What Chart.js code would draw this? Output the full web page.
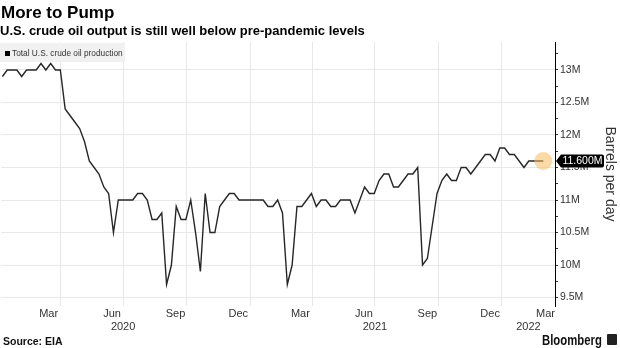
<!DOCTYPE html>
<html><head><meta charset="utf-8">
<script src="https://cdn.jsdelivr.net/npm/chart.js@4.4.1/dist/chart.umd.min.js"></script>
<style>
html,body{margin:0;padding:0;background:#fff;}
#wrap{position:relative;width:620px;height:348px;overflow:hidden;font-family:"Liberation Sans",Arial,sans-serif;}
#c{position:absolute;left:0;top:0;}
.t{position:absolute;white-space:nowrap;line-height:1;}
#title{left:1px;top:4.3px;font-size:17px;font-weight:bold;color:#000;}
#sub{left:0px;top:24px;font-size:13px;font-weight:bold;color:#000;}
#legend{position:absolute;left:0;top:43px;width:125px;height:19px;background:#f1f1f1;}
#legsq{position:absolute;left:5px;top:50.5px;width:5px;height:5px;background:#000;}
#legtx{left:12px;top:48.5px;font-size:8.3px;color:#333;}
#src{left:3px;top:336px;font-size:10.5px;font-weight:bold;color:#111;}
#bb{left:541.5px;top:332.6px;font-size:14px;font-weight:bold;color:#111;transform:scaleX(0.81);transform-origin:0 0;}
#icon{position:absolute;left:607px;top:334px;width:10px;height:11px;background:#222;border-radius:1px;}
</style></head>
<body><div id="wrap">
<canvas id="c" width="620" height="348"></canvas>
<div class="t" id="title">More to Pump</div>
<div class="t" id="sub">U.S. crude oil output is still well below pre-pandemic levels</div>
<div id="legend"></div><div id="legsq"></div>
<div class="t" id="legtx">Total U.S. crude oil production</div>
<div class="t" id="src">Source: EIA</div>
<div class="t" id="bb">Bloomberg</div>
<div id="icon"></div>
</div>
<script>
// ---- data (millions of barrels per day), weekly EIA estimates by release date ----
const seriesName = 'Total U.S. crude oil production';
const firstReleaseDate = '2020-01-08';
const production = [
 12.9,13.0,13.0,13.0,12.9,13.0,13.0,13.0,13.1,13.0,
 13.1,13.0,13.0,12.4,12.3,12.2,12.1,11.9,11.6,11.5,
 11.4,11.2,11.1,10.5,11.0,11.0,11.0,11.0,11.1,11.1,
 11.0,10.7,10.7,10.8,9.7,10.0,10.9,10.7,10.7,11.0,
 10.5,9.9,11.1,10.5,10.5,10.9,11.0,11.1,11.1,11.0,
 11.0,11.0,11.0,11.0,11.0,10.9,10.9,11.0,10.8,9.7,
 10.0,10.9,10.9,11.0,11.1,10.9,11.0,11.0,10.9,10.9,
 11.0,11.0,11.0,10.8,11.0,11.2,11.1,11.1,11.3,11.4,
 11.4,11.2,11.2,11.3,11.4,11.4,11.5,10.0,10.1,10.6,
 11.1,11.3,11.4,11.3,11.3,11.5,11.5,11.4,11.5,11.6,
 11.7,11.7,11.6,11.8,11.8,11.7,11.7,11.6,11.5,11.6,
 11.6,11.6,11.6
];
const axisStart = '2020-01-06';
const axisEnd = '2022-03-19';
const gridDates = ['2020-04-01','2020-07-01','2020-10-01','2021-01-01','2021-04-01','2021-07-01','2021-10-01','2022-01-01'];
const monthLabelDates = ['2020-03-15','2020-06-15','2020-09-15','2020-12-15','2021-03-15','2021-06-15','2021-09-15','2021-12-15'];
const monthLabels = ['Mar','Jun','Sep','Dec','Mar','Jun','Sep','Dec','Mar'];
const yearLabelDates = ['2020-07-01','2021-07-01'];
const yearLabels = ['2020','2021','2022'];
const yTickStep = 0.25;

// ---- helpers ----
const DAY = 86400000;
const base = Date.UTC(2020,0,1);
function toDay(s){ const [y,m,d] = s.split('-').map(Number); return (Date.UTC(y,m-1,d)-base)/DAY; }
const x0 = toDay(firstReleaseDate);
const points = production.map((v,i)=>({x: x0 + 7*i, y: v}));
const xMin = toDay(axisStart), xMax = toDay(axisEnd);
const last = production.length-1;
const isMajor = v => Math.abs(v*2 - Math.round(v*2)) < 1e-6;

Chart.defaults.font.family = '"Liberation Sans", Arial, sans-serif';
Chart.defaults.color = '#333';

const lastLabel = {
  id:'lastLabel',
  afterDraw(chart){
    const ys = chart.scales.y;
    const v = production[last];
    const py = ys.getPixelForValue(v);
    const ax = ys.left + 1;
    const c = chart.ctx;
    c.save();
    c.fillStyle = '#000';
    const l = ax + 5, r = ax + 48, t = py - 6.5, b = py + 6.5, rad = 2;
    c.beginPath();
    c.moveTo(ax, py);
    c.lineTo(l, t);
    c.lineTo(r-rad, t); c.quadraticCurveTo(r, t, r, t+rad);
    c.lineTo(r, b-rad); c.quadraticCurveTo(r, b, r-rad, b);
    c.lineTo(l, b);
    c.closePath();
    c.fill();
    c.fillStyle = '#fff';
    c.font = '10.5px "Liberation Sans", Arial, sans-serif';
    c.textAlign = 'center'; c.textBaseline = 'middle';
    c.fillText(v.toFixed(3)+'M', (l+r)/2, py+0.5);
    c.restore();
  }
};

new Chart(document.getElementById('c'), {
  type:'line',
  data:{ datasets:[{
    label: seriesName,
    data: points,
    borderColor:'#262626',
    borderWidth:1.4,
    tension:0,
    pointRadius: ctx => ctx.dataIndex === last ? 9 : 0,
    pointBackgroundColor:'rgba(247,188,96,0.55)',
    pointBorderWidth:0
  }]},
  options:{
    responsive:false, animation:false, events:[],
    layout:{padding:{top:42,left:0,right:0,bottom:15}, autoPadding:false},
    plugins:{legend:{display:false}, tooltip:{enabled:false}},
    scales:{
      x:{type:'linear', position:'bottom', min:xMin, max:xMax, weight:0,
        grid:{display:true, color:'#e8e8e8', lineWidth:1, drawTicks:false},
        border:{display:false},
        ticks:{display:false},
        afterBuildTicks: s => { s.ticks = gridDates.map(d=>({value:toDay(d)})); },
        afterFit: s => { s.height = 0; }
      },
      xm:{type:'linear', position:'bottom', min:xMin, max:xMax, weight:1,
        grid:{display:false, drawTicks:false},
        border:{display:false},
        ticks:{autoSkip:false, maxRotation:0, minRotation:0, align:'inner', padding:1,
          font:{size:11}, color:'#333',
          callback:(v,i)=> i===0 ? '' : monthLabels[i-1]},
        afterBuildTicks: s => {
          s.ticks = [{value:xMin}].concat(monthLabelDates.map(d=>({value:toDay(d)}))).concat([{value:xMax}]);
        },
        afterFit: s => { s.height = 14; }
      },
      xy:{type:'linear', position:'bottom', min:xMin, max:xMax, weight:2,
        grid:{display:false, drawTicks:false},
        border:{display:false},
        ticks:{autoSkip:false, maxRotation:0, minRotation:0, padding:0.5,
          font:{size:11}, color:'#333',
          callback:(v,i)=> yearLabels[i]},
        afterBuildTicks: s => {
          const vals = yearLabelDates.map(toDay);
          vals.push((toDay('2022-01-01') + xMax)/2);
          s.ticks = vals.map(v=>({value:v}));
        },
        afterFit: s => { s.height = 13; }
      },
      y:{type:'linear', position:'right', min:9.37, max:13.43,
        grid:{color: c => (c.tick && isMajor(c.tick.value)) ? '#e8e8e8' : 'rgba(0,0,0,0)',
              tickColor:'#333', tickLength:3, drawTicks:true, lineWidth:1},
        border:{display:true, color:'#000', width:1},
        ticks:{stepSize:yTickStep, includeBounds:false, autoSkip:false, padding:2,
          font:{size:10.5}, color:'#333',
          callback: v => isMajor(v) ? (Math.round(v*100)/100) + 'M' : ''},
        title:{display:true, text:'Barrels per day', font:{size:14}, color:'#333', padding:{top:2,bottom:0}},
        afterFit: s => { s.width = 65; }
      }
    }
  },
  plugins:[lastLabel]
});
</script>
</body></html>
